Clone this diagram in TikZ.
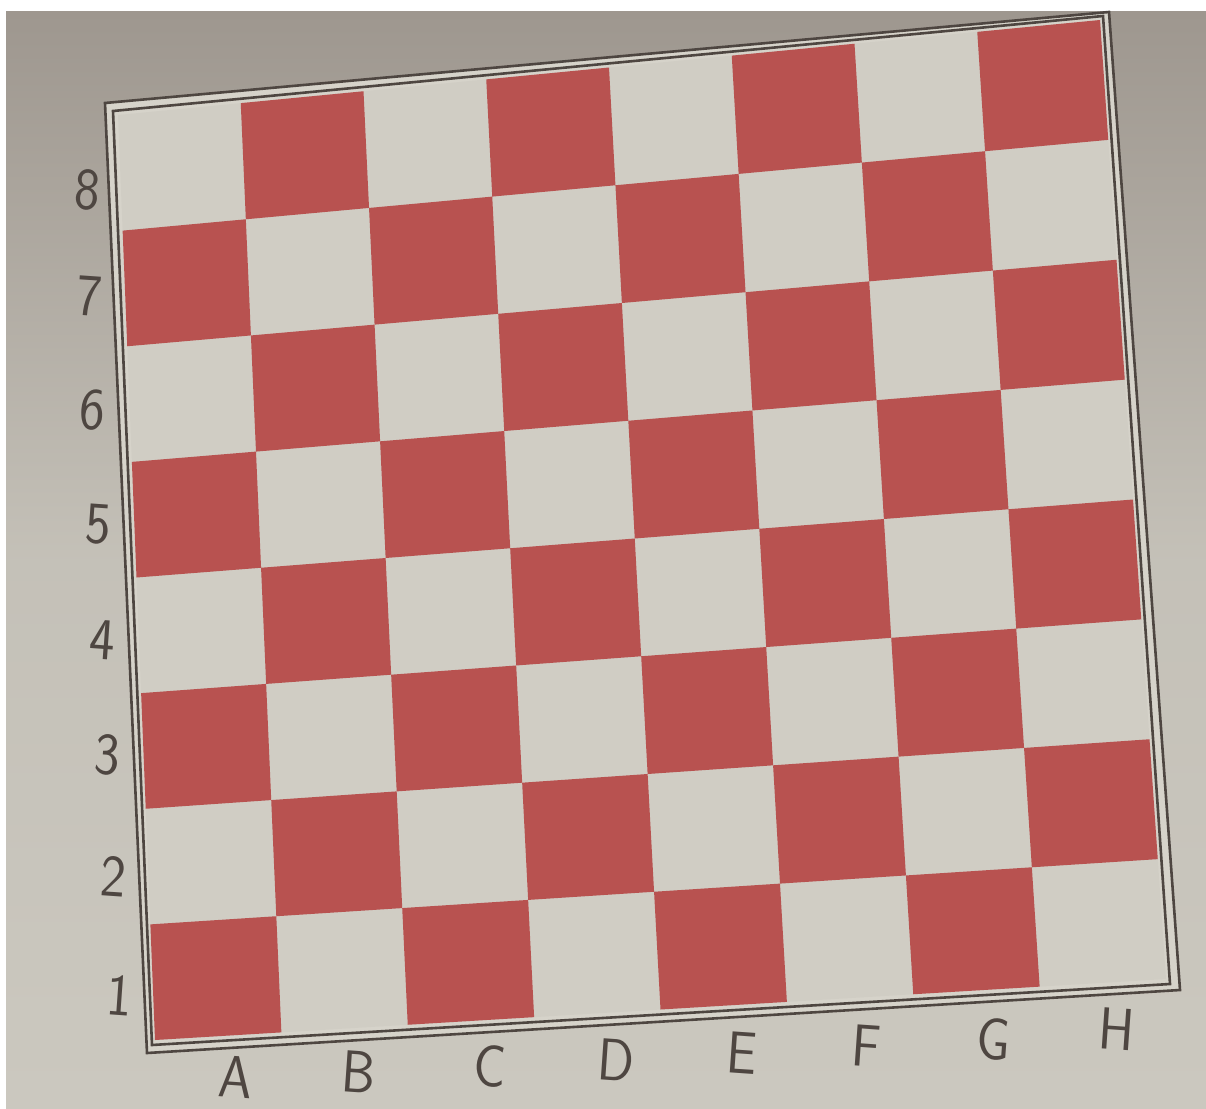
\documentclass[tikz,border=0pt]{standalone}
\definecolor{bgtop}{HTML}{9E978F}
\definecolor{bgbot}{HTML}{CBC8BF}
\definecolor{lightsq}{HTML}{D0CDC4}
\definecolor{gapcol}{HTML}{D6D3CA}
\definecolor{redsq}{HTML}{B85250}
\definecolor{ink}{HTML}{4E4641}
\tikzset{
  frameline/.style={draw=ink,line width=2.6pt,line join=miter},
  coordlabel/.style={text=ink,font=\fontsize{54}{54}\selectfont\sffamily,inner sep=0pt,anchor=center,rotate=-4,yscale=1.1}
}
\begin{document}
\begin{tikzpicture}[x=1pt,y=-1pt]
\useasboundingbox (0,0) rectangle (1206,1108);
\fill[white] (0,0) rectangle (1206,1108);
\shade[top color=bgtop,bottom color=bgbot,middle color=bgbot!85!bgtop] (6,12) rectangle (1206,1108);
% grid points by bilinear interpolation of the photographed corners
\foreach \i in {0,...,8}{
  \foreach \j in {0,...,8}{
    \pgfmathsetmacro\u{\i/8}
    \pgfmathsetmacro\v{\j/8}
    \pgfmathsetmacro\px{118*(1-\u)*(1-\v)+1100*\u*(1-\v)+155*(1-\u)*\v+1166*\u*\v}
    \pgfmathsetmacro\py{115*(1-\u)*(1-\v)+20*\u*(1-\v)+1040*(1-\u)*\v+979*\u*\v}
    \coordinate (g\i-\j) at (\px,\py);
  }
}
% frame
\fill[gapcol] (105,103) -- (1109,12) -- (1180,990) -- (147,1053) -- cycle;
\draw[frameline] (105,103) -- (1109,12) -- (1180,990) -- (147,1053) -- cycle;
\draw[frameline] (113,111) -- (1103,16) -- (1170,984) -- (152,1045) -- cycle;
% board
\fill[lightsq] (g0-0) -- (g8-0) -- (g8-8) -- (g0-8) -- cycle;
\foreach \i in {0,...,7}{
  \foreach \j in {0,...,7}{
    \pgfmathtruncatemacro\ii{\i+1}
    \pgfmathtruncatemacro\jj{\j+1}
    \pgfmathtruncatemacro\parity{mod(\i+\j,2)}
    \ifnum\parity=1
      \fill[redsq] (g\i-\j) -- (g\ii-\j) -- (g\ii-\jj) -- (g\i-\jj) -- cycle;
    \fi
  }
}
% rank labels
\node[coordlabel] (r8) at (88,190) {8};
\node[coordlabel] (r7) at (90,296) {7};
\node[coordlabel] (r6) at (93,410) {6};
\node[coordlabel] (r5) at (98,524) {5};
\node[coordlabel] (r4) at (103,640) {4};
\node[coordlabel] (r3) at (108,755) {3};
\node[coordlabel] (r2) at (114,876) {2};
\node[coordlabel] (r1) at (120,995) {1};
% file labels
\node[coordlabel] (fA) at (236,1077) {A};
\node[coordlabel] (fB) at (359,1072) {B};
\node[coordlabel] (fC) at (490,1066) {C};
\node[coordlabel] (fD) at (616,1060) {D};
\node[coordlabel] (fE) at (742,1053) {E};
\node[coordlabel] (fF) at (866,1046) {F};
\node[coordlabel] (fG) at (994,1039) {G};
\node[coordlabel] (fH) at (1117,1029) {H};
\end{tikzpicture}
\end{document}
